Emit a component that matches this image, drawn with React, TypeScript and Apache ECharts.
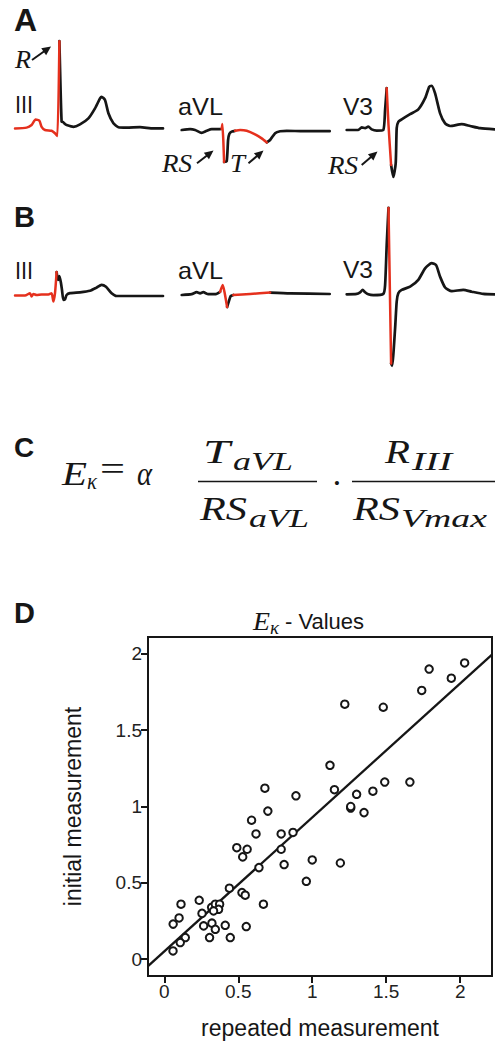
import React, { useEffect, useRef } from "react";
import * as echarts from "echarts";

const W = 495;
const H = 1044;
const SERIF = "'Liberation Serif', 'Times New Roman', serif";
const SANS = "'Liberation Sans', Arial, Helvetica, sans-serif";
const INK = "#161616";
const RED = "#e5301d";

// ---------- ECG traces: [time ms, amplitude mV] ----------
// Panel A, lead III
const aIIIRed = [[0, -0.01], [58, 0.01], [83, 0.075], [103, 0.21], [122, 0.18], [133, 0.03], [150, -0.05], [183, -0.07], [200, -0.13], [212, -0.2], [222, 2.17]];
const aIIIBlack = [[222, 2.17], [233, 0.16], [240, 0.15], [250, 0.1], [258, 0.075], [292, 0.03], [325, 0.09], [367, 0.24], [400, 0.49], [425, 0.74], [433, 0.78], [450, 0.7], [467, 0.37], [492, 0.12], [517, 0.02], [558, 0.01], [625, 0.02], [692, -0.01], [740, -0.01]];
// Panel A, lead aVL
const aAvlBlack1 = [[0, 0], [42, 0.02], [67, 0], [100, -0.07], [125, -0.02], [150, 0.02], [183, 0.02], [200, 0.025]];
const aAvlRedRS = [[200, 0.025], [203, 0.15], [208, -0.25], [212, -0.8]];
const aAvlBlack2 = [[212, -0.8], [225, -0.78], [232, -0.25], [238, -0.1], [250, -0.04], [267, -0.02]];
const aAvlRedT = [[267, -0.02], [292, 0], [325, -0.02], [367, -0.11], [400, -0.21], [425, -0.31]];
const aAvlBlack3 = [[425, -0.31], [442, -0.25], [467, -0.08], [492, -0.03], [525, -0.02], [608, -0.03], [740, -0.03]];
// Panel A, lead V3
const aV3Black1 = [[0, -0.025], [58, -0.025], [75, 0.04], [92, 0.02], [108, 0.06], [125, -0.01], [150, -0.04], [183, -0.025], [192, 0.48], [200, 1.02]];
const aV3Red = [[200, 1.02], [209, 0.1], [222, -0.9]];
const aV3Black2 = [[222, -0.9], [233, -1.2], [245, -0.86], [250, 0.02], [258, 0.18], [275, 0.24], [317, 0.37], [358, 0.49], [392, 0.77], [413, 1.06], [425, 1.08], [442, 0.89], [467, 0.39], [492, 0.14], [517, 0.075], [575, 0.12], [617, 0.075], [667, 0.02], [740, -0.01]];
// Panel B, lead III
const bIIIRed = [[0, 0.01], [50, 0.01], [75, 0.07], [83, -0.01], [92, 0.05], [108, 0.025], [133, 0.04], [167, 0.04], [183, 0.07], [192, -0.14], [200, 0.07], [208, 0.6]];
const bIIIBlack = [[208, 0.6], [215, 0.4], [222, 0.5], [230, 0.32], [235, 0.15], [242, -0.1], [250, -0.08], [258, 0.025], [275, 0.07], [325, 0.09], [375, 0.13], [408, 0.21], [433, 0.28], [455, 0.23], [483, 0.07], [508, 0], [592, 0], [740, 0]];
// Panel B, lead aVL
const bAvlBlack1 = [[0, 0], [50, 0.02], [75, 0.07], [92, 0.04], [108, 0.07], [133, 0.02], [167, 0.02], [192, 0.08]];
const bAvlRedRS = [[192, 0.08], [205, 0.25], [214, 0.075], [227, -0.3]];
const bAvlBlack2 = [[227, -0.3], [235, -0.17], [245, -0.025], [258, 0]];
const bAvlRedT = [[258, 0], [342, 0.025], [442, 0.06]];
const bAvlBlack3 = [[442, 0.06], [542, 0.04], [740, 0.025]];
// Panel B, lead V3
const bV3Black1 = [[0, 0], [50, 0.01], [67, 0.05], [80, 0.11], [92, 0.05], [108, 0], [133, -0.02], [183, 0.01], [192, 0.23], [200, 1.23], [209, 2.16]];
const bV3Red = [[209, 2.16], [222, -1.73]];
const bV3Black2 = [[222, -1.73], [227, -1.79], [242, -0.85], [250, -0.18], [258, 0.025], [275, 0.11], [317, 0.19], [358, 0.36], [392, 0.65], [425, 0.78], [447, 0.73], [467, 0.44], [492, 0.17], [525, 0.08], [583, 0.11], [625, 0.065], [683, 0.01], [740, 0]];

// ---------- Panel D: E_kappa values ----------
const repeatedMeasurement = [2.03, 1.79, 1.94, 1.74, 1.22, 1.48, 1.12, 1.15, 0.68, 0.89, 1.30, 1.41, 1.49, 1.66, 1.26, 1.26, 1.35, 0.70, 0.59, 0.62, 0.79, 0.87, 0.49, 0.56, 0.53, 0.79, 0.81, 1.00, 1.19, 0.64, 0.96, 0.44, 0.525, 0.547, 0.67, 0.236, 0.113, 0.10, 0.06, 0.255, 0.32, 0.345, 0.374, 0.367, 0.333, 0.266, 0.322, 0.345, 0.412, 0.554, 0.306, 0.446, 0.142, 0.108, 0.059];
const initialMeasurement = [1.94, 1.90, 1.84, 1.76, 1.67, 1.65, 1.27, 1.11, 1.12, 1.07, 1.08, 1.10, 1.16, 1.16, 0.99, 1.0, 0.96, 0.97, 0.91, 0.82, 0.82, 0.83, 0.73, 0.72, 0.67, 0.72, 0.62, 0.65, 0.63, 0.60, 0.51, 0.465, 0.436, 0.419, 0.36, 0.386, 0.36, 0.27, 0.23, 0.30, 0.34, 0.36, 0.36, 0.327, 0.316, 0.218, 0.236, 0.196, 0.222, 0.214, 0.142, 0.142, 0.142, 0.109, 0.054];
const regressionLine = [[-0.11, -0.046], [2.215, 1.995]];
const xTicks = [0, 0.5, 1, 1.5, 2];
const yTicks = [0, 0.5, 1, 1.5, 2];

// ---------- layout of the lead strips ----------
const leads = [
  { left: 15, base: 128, segs: [[aIIIRed, RED], [aIIIBlack, INK]] },
  { left: 181.7, base: 130, segs: [[aAvlBlack1, INK], [aAvlBlack2, INK], [aAvlBlack3, INK], [aAvlRedRS, RED], [aAvlRedT, RED]] },
  { left: 346.7, base: 129, segs: [[aV3Black1, INK], [aV3Black2, INK], [aV3Red, RED]] },
  { left: 15, base: 296, segs: [[bIIIBlack, INK], [bIIIRed, RED]] },
  { left: 181.7, base: 295, segs: [[bAvlBlack1, INK], [bAvlBlack2, INK], [bAvlBlack3, INK], [bAvlRedRS, RED], [bAvlRedT, RED]] },
  { left: 346.7, base: 294.3, segs: [[bV3Black1, INK], [bV3Black2, INK], [bV3Red, RED]] },
];

let measureCtx: CanvasRenderingContext2D | null = null;
function measure(text: string, font: string) {
  if (!measureCtx) measureCtx = document.createElement("canvas").getContext("2d");
  measureCtx!.font = font;
  return measureCtx!.measureText(text).width;
}

function mathText(text: string, x: number, baseline: number, fs: number, targetW?: number, italic = true, align = "left") {
  const font = `${italic ? "italic " : ""}${fs}px ${SERIF}`;
  const nat = measure(text, font) || 1;
  const sx = targetW ? targetW / nat : 1;
  return {
    type: "text", x, y: baseline - 0.3375 * fs, scaleX: sx, silent: true,
    style: { text, fontFamily: SERIF, fontStyle: italic ? "italic" : "normal", fontSize: fs, fill: INK, align, verticalAlign: "middle" },
  };
}

function sansText(text: string, x: number, yMid: number, fs: number, bold = false, targetW?: number) {
  const font = `${bold ? "bold " : ""}${fs}px ${SANS}`;
  const nat = measure(text, font) || 1;
  const sx = targetW ? targetW / nat : 1;
  return {
    type: "text", x, y: yMid, scaleX: sx, silent: true,
    style: { text, fontFamily: SANS, fontWeight: bold ? "bold" : "normal", fontSize: fs, fill: INK, align: "left", verticalAlign: "middle" },
  };
}

function arrow(x1: number, y1: number, x2: number, y2: number) {
  const dx = x2 - x1, dy = y2 - y1;
  const len = Math.hypot(dx, dy);
  const ux = dx / len, uy = dy / len;
  const hl = 9, hw = 4.2;
  const bx = x2 - ux * hl, by = y2 - uy * hl;
  return [
    { type: "line", silent: true, shape: { x1, y1, x2: bx + ux * 2, y2: by + uy * 2 }, style: { stroke: INK, lineWidth: 2 } },
    { type: "polygon", silent: true, shape: { points: [[x2, y2], [bx - uy * hw, by + ux * hw], [bx + uy * hw, by - ux * hw]] }, style: { fill: INK } },
  ];
}

function buildOption() {
  const grids: any[] = [];
  const xAxes: any[] = [];
  const yAxes: any[] = [];
  const series: any[] = [];

  leads.forEach((ld, i) => {
    grids.push({ left: ld.left, top: ld.base - 100, width: 149, height: 200, outerBoundsMode: "none" });
    xAxes.push({ gridIndex: i, type: "value", min: 0, max: 745, show: false });
    yAxes.push({ gridIndex: i, type: "value", min: -2.5, max: 2.5, show: false });
    ld.segs.forEach(([data, color]: any) => {
      series.push({
        type: "line", xAxisIndex: i, yAxisIndex: i, data, showSymbol: false, symbol: "none",
        smooth: 0.2, clip: false, silent: true,
        lineStyle: { color, width: color === RED ? 2.5 : 2.7, cap: "round", join: "round" },
        z: color === RED ? 3 : 2,
      });
    });
  });

  const gi = leads.length;
  grids.push({ left: 148, top: 637, width: 344, height: 339, show: true, borderColor: INK, borderWidth: 2, backgroundColor: "transparent", outerBoundsMode: "none" });
  const axisName = { fontSize: 23, color: INK, fontFamily: SANS };
  xAxes.push({
    gridIndex: gi, type: "value", min: -0.11, max: 2.215,
    axisLine: { show: true, onZero: false, lineStyle: { color: INK, width: 2 } },
    axisTick: { show: true, length: 7, lineStyle: { color: INK, width: 2 }, customValues: xTicks },
    axisLabel: { show: true, customValues: xTicks, fontSize: 19, color: "#222", fontFamily: SANS, margin: 6 },
    splitLine: { show: false },
    name: "repeated measurement", nameLocation: "middle", nameGap: 40, nameTextStyle: axisName,
  });
  yAxes.push({
    gridIndex: gi, type: "value", min: -0.11, max: 2.11,
    axisLine: { show: true, onZero: false, lineStyle: { color: INK, width: 2 } },
    axisTick: { show: true, length: 7, lineStyle: { color: INK, width: 2 }, customValues: yTicks },
    axisLabel: { show: true, customValues: yTicks, fontSize: 19, color: "#222", fontFamily: SANS, margin: 6 },
    splitLine: { show: false },
    name: "initial measurement", nameLocation: "middle", nameGap: 64, nameTextStyle: axisName,
  });
  series.push({
    type: "line", xAxisIndex: gi, yAxisIndex: gi, data: regressionLine, showSymbol: false, symbol: "none",
    lineStyle: { color: INK, width: 2.3 }, silent: true, z: 2,
  });
  series.push({
    type: "scatter", xAxisIndex: gi, yAxisIndex: gi,
    data: repeatedMeasurement.map((x, k) => [x, initialMeasurement[k]]),
    symbol: "circle", symbolSize: 7.5,
    itemStyle: { color: "#fff", borderColor: INK, borderWidth: 2, opacity: 1 },
    silent: true, z: 4,
  });

  const graphic: any[] = [
    // panel letters
    sansText("A", 14, 20, 32, true),
    sansText("B", 14, 217, 29, true),
    sansText("C", 14, 447.5, 28, true),
    sansText("D", 14, 613, 29, true),
    // lead labels
    sansText("III", 15, 105, 24, false, 18),
    sansText("aVL", 178, 107, 24, false, 45),
    sansText("V3", 343, 107, 24, false, 30),
    sansText("III", 15, 270.5, 24, false, 18),
    sansText("aVL", 178, 270.5, 24, false, 45),
    sansText("V3", 343, 270, 24, false, 30),
    // annotations
    mathText("R", 15, 68, 26, 16),
    ...arrow(32, 60, 51, 46.5),
    mathText("RS", 162, 172, 26, 30),
    ...arrow(197, 163.3, 213.5, 150.5),
    mathText("T", 230, 172, 26, 15),
    ...arrow(248.5, 163.3, 263.5, 150.5),
    mathText("RS", 328, 173.5, 26, 30),
    ...arrow(361.7, 165, 377.5, 151.5),
    // formula C
    mathText("E", 62, 485, 34, 25),
    mathText("κ", 87, 489, 24, 10),
    mathText("=", 100, 480, 34, 25, false),
    mathText("α", 137, 485, 34, 15),
    mathText("T", 203, 463, 34, 27),
    mathText("aVL", 233, 470, 26, 60),
    { type: "line", silent: true, shape: { x1: 198, y1: 481.5, x2: 317, y2: 481.5 }, style: { stroke: INK, lineWidth: 1.6 } },
    mathText("RS", 200, 520, 34, 47),
    mathText("aVL", 249, 527, 26, 60),
    mathText("·", 337, 494, 34, undefined, false, "center"),
    mathText("R", 385, 463, 34, 25),
    mathText("III", 412, 470, 26, 40),
    { type: "line", silent: true, shape: { x1: 352, y1: 481.5, x2: 495, y2: 481.5 }, style: { stroke: INK, lineWidth: 1.6 } },
    mathText("RS", 353, 520, 34, 47),
    mathText("Vmax", 401, 527, 26, 86),
    // scatter title
    mathText("E", 253, 630, 26, 17),
    mathText("κ", 270, 634, 18, 9),
    sansText("- Values", 285, 621, 22),
  ];

  return {
    animation: false,
    backgroundColor: "#ffffff",
    grid: grids,
    xAxis: xAxes,
    yAxis: yAxes,
    series,
    graphic: { elements: graphic },
  };
}

export default function App() {
  const ref = useRef<HTMLDivElement>(null);
  useEffect(() => {
    const chart = echarts.init(ref.current!, null, { renderer: "svg", width: W, height: H });
    chart.setOption(buildOption() as any);
    return () => chart.dispose();
  }, []);
  return <div ref={ref} style={{ position: "absolute", left: 0, top: 0, width: W, height: H, background: "#fff" }} />;
}
